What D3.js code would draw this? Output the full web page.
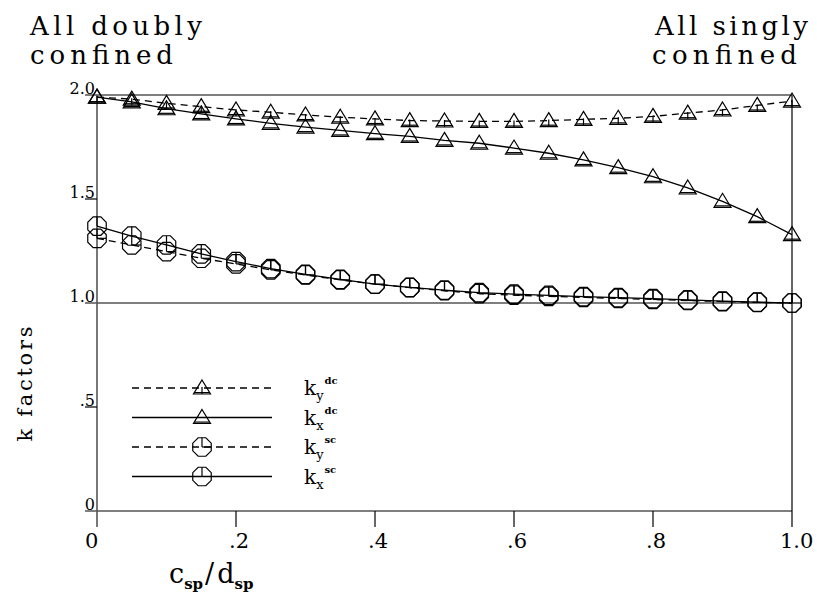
<!DOCTYPE html>
<html>
<head>
<meta charset="utf-8" />
<script src="https://d3js.org/d3.v7.min.js"></script>
<style>
  body { margin: 0; background: #fff; }
  text { font-family: "DejaVu Serif", serif; fill: #000; }
  .series { fill: none; stroke: #000; stroke-width: 1.3px; }
  .dashed { stroke-dasharray: 7,5; }
  .mark { fill: none; stroke: #000; stroke-width: 1.2px; }
</style>
</head>
<body>
<svg width="817" height="596"></svg>
<script>
// ratio c_sp / d_sp
var ratio = [0, 0.05, 0.1, 0.15, 0.2, 0.25, 0.3, 0.35, 0.4, 0.45, 0.5,
             0.55, 0.6, 0.65, 0.7, 0.75, 0.8, 0.85, 0.9, 0.95, 1.0];

// k factors
var kyDc = [1.99, 1.98, 1.96, 1.944, 1.928, 1.917, 1.904, 1.893, 1.885, 1.877, 1.875,
            1.873, 1.873, 1.877, 1.883, 1.888, 1.897, 1.913, 1.928, 1.95, 1.971];
var kxDc = [1.99, 1.967, 1.934, 1.909, 1.885, 1.864, 1.846, 1.83, 1.814, 1.801, 1.782,
            1.768, 1.745, 1.72, 1.688, 1.651, 1.607, 1.553, 1.489, 1.415, 1.329];
var kySc = [1.311, 1.279, 1.247, 1.215, 1.188, 1.159, 1.135, 1.111, 1.091, 1.074, 1.059,
            1.045, 1.038, 1.032, 1.027, 1.022, 1.017, 1.012, 1.007, 1.003, 1.0];
var kxSc = [1.370, 1.322, 1.279, 1.236, 1.199, 1.165, 1.138, 1.114, 1.091, 1.075, 1.062,
            1.05, 1.043, 1.037, 1.031, 1.026, 1.021, 1.015, 1.009, 1.004, 1.0];

var xTicks = [0, 0.2, 0.4, 0.6, 0.8, 1.0],
    xTickLabels = ["0", ".2", ".4", ".6", ".8", "1.0"];
var yTicks = [0, 0.5, 1.0, 1.5, 2.0],
    yTickLabels = ["0", ".5", "1.0", "1.5", "2.0"];
var yFullLines = [0, 1.0, 2.0];

var seriesSub = ["y", "x", "y", "x"];
var seriesSup = ["dc", "dc", "sc", "sc"];

var svg = d3.select("svg");

svg.append("rect")
  .attr("width", "100%")
  .attr("height", "100%")
  .attr("fill", "#fff");

var x = d3.scaleLinear().domain([0, 1]).range([97, 792]),
    y = d3.scaleLinear().domain([0, 2]).range([511, 95]);

var series = [
  {id: "ky_dc", values: kyDc, dashed: true, mark: "triDash"},
  {id: "kx_dc", values: kxDc, dashed: false, mark: "tri"},
  {id: "ky_sc", values: kySc, dashed: true, mark: "octDash"},
  {id: "kx_sc", values: kxSc, dashed: false, mark: "oct"}
];

// frame, full lines and ticks
var frame = svg.append("g").attr("stroke", "#000").attr("stroke-width", 1.2);

frame.selectAll(".hline")
  .data(yFullLines)
  .enter().append("line")
  .attr("x1", x(0) - 12).attr("x2", x(1))
  .attr("y1", function(d) { return y(d); })
  .attr("y2", function(d) { return y(d); })
  .attr("stroke", function(d) { return d === 2 ? "#555" : "#000"; })
  .attr("stroke-width", function(d) { return d === 2 ? 1.6 : 1.2; });

frame.append("line")
  .attr("x1", x(0)).attr("x2", x(0))
  .attr("y1", y(2)).attr("y2", y(0) + 16)
  .attr("stroke", "#555").attr("stroke-width", 1.6);

frame.append("line")
  .attr("x1", x(1)).attr("x2", x(1))
  .attr("y1", y(2)).attr("y2", y(0) + 16);

frame.selectAll(".xtick")
  .data(xTicks.slice(1, -1))
  .enter().append("line")
  .attr("x1", function(d) { return x(d); })
  .attr("x2", function(d) { return x(d); })
  .attr("y1", y(0)).attr("y2", y(0) + 16);

frame.selectAll(".ytick")
  .data([0.5, 1.5])
  .enter().append("line")
  .attr("x1", x(0) - 12).attr("x2", x(0))
  .attr("y1", function(d) { return y(d); })
  .attr("y2", function(d) { return y(d); });

// tick labels
svg.selectAll(".xlabel")
  .data(xTicks)
  .enter().append("text")
  .attr("x", function(d, i) { return x(d) - (xTickLabels[i].charAt(0) === "." ? 7 : 12); })
  .attr("y", 548)
  .style("font-size", "21px")
  .text(function(d, i) { return xTickLabels[i]; });

svg.selectAll(".ylabel")
  .data(yTicks)
  .enter().append("text")
  .attr("x", x(0) - 2)
  .attr("y", function(d) { return y(d) - 1; })
  .attr("text-anchor", "end")
  .style("font-size", "16px")
  .text(function(d, i) { return yTickLabels[i]; });

// marker shapes
var octagon = d3.range(8).map(function(i) {
  var a = Math.PI / 8 + i * Math.PI / 4;
  return [10 * Math.cos(a), 10 * Math.sin(a)];
});

function drawMark(g, type) {
  if (type === "tri" || type === "triDash") {
    g.append("path").attr("class", "mark").attr("d", "M0,-8L8.5,6L-8.5,6Z");
    g.append("line").attr("class", "mark").attr("x1", -7.6).attr("x2", 7.6).attr("y1", 4.6).attr("y2", 4.6);
    if (type === "triDash") {
      g.append("line").attr("class", "mark").attr("x1", 0).attr("x2", 0).attr("y1", -1).attr("y2", 6);
    }
  } else {
    g.append("path").attr("class", "mark").attr("d", "M" + octagon.join("L") + "Z");
    g.append("line").attr("class", "mark").attr("x1", 0).attr("x2", 0).attr("y1", -9.2).attr("y2", 0);
    if (type === "octDash") {
      g.append("line").attr("class", "mark").attr("x1", 0).attr("x2", 9.2).attr("y1", 0).attr("y2", 0);
    }
  }
}

var line = d3.line()
  .x(function(d, i) { return x(ratio[i]); })
  .y(function(d) { return y(d); });

var groups = svg.selectAll(".serie")
  .data(series)
  .enter().append("g");

groups.append("path")
  .attr("class", function(d) { return "series" + (d.dashed ? " dashed" : ""); })
  .attr("d", function(d) { return line(d.values); });

groups.each(function(s) {
  d3.select(this).selectAll(".pt")
    .data(s.values)
    .enter().append("g")
    .attr("transform", function(d, i) { return "translate(" + x(ratio[i]) + "," + y(d) + ")"; })
    .each(function() { drawMark(d3.select(this), s.mark); });
});

// legend
var legend = svg.selectAll(".legend")
  .data(series)
  .enter().append("g")
  .attr("transform", function(d, i) { return "translate(0," + (388 + i * 29.5) + ")"; });

legend.append("line")
  .attr("class", function(d) { return "series" + (d.dashed ? " dashed" : ""); })
  .attr("x1", 132).attr("x2", 272)
  .attr("y1", 0).attr("y2", 0);

legend.append("g")
  .attr("transform", "translate(202,0)")
  .each(function(d) { drawMark(d3.select(this), d.mark); });

var lt = legend.append("text")
  .attr("x", 304)
  .attr("y", 7)
  .style("font-size", "20px");
lt.append("tspan").text("k");
lt.append("tspan")
  .attr("dy", 5)
  .style("font-size", "13px")
  .text(function(d, i) { return seriesSub[i]; });
lt.append("tspan")
  .attr("dy", -16)
  .attr("dx", 1)
  .style("font-size", "10px")
  .style("font-weight", "bold")
  .text(function(d, i) { return seriesSup[i]; });

// titles
var titles = [
  {t: "All doubly", x: 30, y: 35, w: 172},
  {t: "confined", x: 30, y: 64, w: 143},
  {t: "All singly", x: 655, y: 35, w: 153},
  {t: "confined", x: 652, y: 64, w: 145}
];
svg.selectAll(".title")
  .data(titles)
  .enter().append("text")
  .attr("x", function(d) { return d.x; })
  .attr("y", function(d) { return d.y; })
  .attr("textLength", function(d) { return d.w; })
  .attr("lengthAdjust", "spacing")
  .style("font-size", "26px")
  .text(function(d) { return d.t; });

svg.append("text")
  .attr("transform", "translate(32,384) rotate(-90)")
  .attr("text-anchor", "middle")
  .attr("textLength", 115)
  .attr("lengthAdjust", "spacing")
  .style("font-size", "21px")
  .text("k factors");

var xt = svg.append("text")
  .attr("x", 169)
  .attr("y", 583)
  .style("font-size", "27px");
xt.append("tspan").text("c");
xt.append("tspan").attr("dy", 6).style("font-size", "15px").style("font-weight", "bold").text("sp");
xt.append("tspan").attr("dy", -6).attr("dx", 2).text("/");
xt.append("tspan").attr("dx", 3).text("d");
xt.append("tspan").attr("dy", 6).style("font-size", "15px").style("font-weight", "bold").text("sp");
</script>
</body>
</html>
